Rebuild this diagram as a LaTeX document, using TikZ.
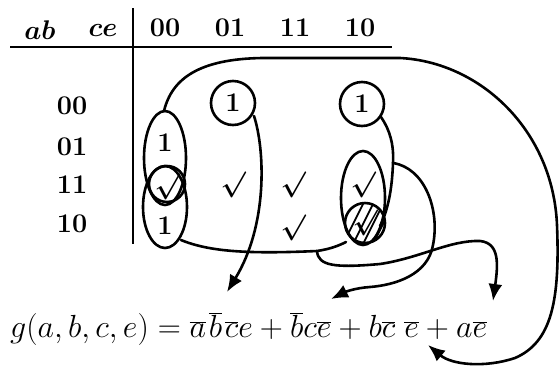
\RequirePackage{fix-cm}
\documentclass[tikz,border=0pt]{standalone}
\usetikzlibrary{arrows.meta}
\begin{document}
\begin{tikzpicture}[x=1pt,y=-1pt,
  lbl/.style={font=\fontsize{27}{30}\selectfont\bfseries\boldmath, inner sep=0pt},
  chk/.style={font=\fontsize{26}{30}\selectfont\boldmath, inner sep=0pt},
  big/.style={font=\fontsize{32}{36}\selectfont, inner sep=0pt},
  pen/.style={line width=2.6pt, line cap=round, line join=round},
  arr/.style={pen, -{Latex[length=17pt,width=14pt]}},
  rule/.style={line width=1.8pt}]
\useasboundingbox (0,0) rectangle (560,368);
% header
\node[lbl] (hab) at (40,30) {$ab$};
\node[lbl] (hce) at (103,30) {$ce$};
\node[lbl] (k00) at (165,28) {00};
\node[lbl] (k01) at (230,28) {01};
\node[lbl] (k11) at (295,28) {11};
\node[lbl] (k10) at (360,28) {10};
\coordinate (vt) at (133,8); \coordinate (vb) at (133,244);
\coordinate (hl) at (10,47); \coordinate (hr) at (392,47);
\draw[rule] (vt) -- (vb);
\draw[rule] (hl) -- (hr);
% row labels
\node[lbl] (r00) at (72,106) {00};
\node[lbl] (r01) at (72,147) {01};
\node[lbl] (r11) at (72,185) {11};
\node[lbl] (r10) at (72,224) {10};
% cells
\node[lbl] (m0001) at (233,103) {1};
\node[lbl] (m0010) at (362,104) {1};
\node[lbl] (m0100) at (165,143) {1};
\node[chk] (m1100) at (167,187) {$\surd$};
\node[chk] (m1101) at (233,185) {$\surd$};
\node[chk] (m1111) at (293,185) {$\surd$};
\node[chk] (m1110) at (363,185) {$\surd$};
\node[lbl] (m1000) at (165,226) {1};
\node[chk] (m1011) at (293,228) {$\surd$};
\node[chk] (m1010) at (365,223) {$\surd$};
% loops
\draw[pen] (m0001) circle[radius=22pt];
\draw[pen] (m0010) circle[radius=22pt];
\draw[pen] (167,184) circle[radius=18pt];
\draw[pen] (165,158) ellipse[x radius=21pt, y radius=47pt];
\draw[pen] (165,207) ellipse[x radius=22pt, y radius=41pt];
\draw[pen] (363,198) ellipse[x radius=22pt, y radius=47pt];
\draw[pen] (m1010) circle[radius=20pt];
\begin{scope}
  \clip (m1010) circle[radius=20pt];
  \foreach \d in {-24,-14,-4,6,16} {
    \draw[line width=1.8pt] ([xshift=\d pt, yshift=-25pt]m1010.center) -- ([xshift=\d pt+25pt, yshift=25pt]m1010.center);
  }
\end{scope}
% formula
\node[big, anchor=base west] (f) at (10,337)
  {$g(a,b,c,e)=\overline{a}\mkern1.5mu\overline{b}\mkern1.5mu\overline{c}e+\overline{b}c\overline{e}+b\overline{c}\;\overline{e}+a\overline{e}$};
% connectors
\coordinate (e1top) at (164,111);
\coordinate (t1) at (428,345);
\draw[arr] (e1top) .. controls (172,78) and (200,59) .. (262,58)
  -- (400,58) .. controls (480,62) and (553,130) .. (557,225)
  .. controls (560,300) and (552,342) .. (515,358)
  .. controls (485,368) and (452,365) .. (t1);
\coordinate (a1) at (254,116);
\coordinate (t2) at (227,292);
\draw[arr] (a1) .. controls (265,150) and (268,225) .. (t2);
\coordinate (b1) at (381,117);
\coordinate (b2) at (393,163);
\coordinate (t3) at (331,299);
\draw[pen] (b1) .. controls (390,130) and (394,145) .. (b2) .. controls (392,190) and (388,210) .. (380,226);
\draw[arr] (b2) .. controls (425,168) and (440,210) .. (433,245)
  .. controls (428,275) and (395,285) .. (370,287) .. controls (355,288) and (345,292) .. (t3);
\coordinate (c1) at (181,240);
\coordinate (c2) at (317,251);
\coordinate (t4) at (493,301);
\draw[pen] (c1) .. controls (210,252) and (250,254) .. (c2) .. controls (330,249) and (338,246) .. (346,242);
\draw[arr] (c2) .. controls (318,266) and (335,268) .. (380,264)
  .. controls (420,258) and (450,240) .. (480,241)
  .. controls (500,243) and (498,265) .. (t4);
\end{tikzpicture}
\end{document}
